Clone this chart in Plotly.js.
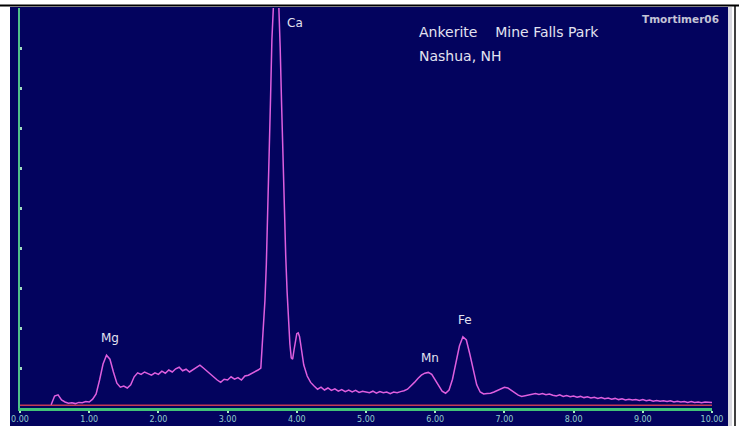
<!DOCTYPE html>
<html>
<head>
<meta charset="utf-8">
<script src="https://cdn.plot.ly/plotly-3.0.1.min.js"></script>
<style>html,body{margin:0;padding:0;background:#fff;}#chart{width:739px;height:426px;}</style>
</head>
<body>
<div id="chart"></div>
<script>
// Energy (keV)
const energy = [
0.45,0.50,0.55,0.60,0.65,0.70,0.75,0.80,0.85,0.90,0.95,1.00,1.05,1.10,1.15,1.20,1.25,1.30,1.35,1.40,
1.45,1.50,1.55,1.60,1.65,1.70,1.75,1.80,1.85,1.90,1.95,2.00,2.05,2.10,2.15,2.20,2.25,2.30,2.35,2.40,
2.45,2.50,2.55,2.60,2.65,2.70,2.75,2.80,2.85,2.90,2.95,3.00,3.05,3.10,3.15,3.20,3.25,3.30,3.35,3.40,
3.44,3.48,3.50,3.52,3.54,3.56,3.58,3.60,3.62,3.64,3.66,3.68,3.70,3.72,3.74,3.76,3.78,3.80,3.82,3.84,
3.86,3.88,3.90,3.92,3.94,3.96,3.98,4.00,4.02,4.04,4.06,4.08,4.10,4.15,4.20,4.25,4.30,4.35,4.40,4.45,
4.50,4.55,4.60,4.65,4.70,4.75,4.80,4.85,4.90,4.95,5.00,5.05,5.10,5.15,5.20,5.25,5.30,5.35,5.40,5.45,
5.50,5.55,5.60,5.65,5.70,5.75,5.80,5.85,5.90,5.95,6.00,6.05,6.10,6.15,6.20,6.25,6.30,6.35,6.40,6.45,
6.50,6.55,6.60,6.65,6.70,6.75,6.80,6.85,6.90,6.95,7.00,7.05,7.10,7.15,7.20,7.25,7.30,7.35,7.40,7.45,
7.50,7.55,7.60,7.65,7.70,7.75,7.80,7.85,7.90,7.95,8.00,8.05,8.10,8.15,8.20,8.25,8.30,8.35,8.40,8.45,
8.50,8.55,8.60,8.65,8.70,8.75,8.80,8.85,8.90,8.95,9.00,9.05,9.10,9.15,9.20,9.25,9.30,9.35,9.40,9.45,
9.50,9.55,9.60,9.65,9.70,9.75,9.80,9.85,9.90,9.95,10.00
];
// Counts (arbitrary units)
const counts = [
0.08,0.30,0.33,0.20,0.15,0.12,0.13,0.11,0.14,0.13,0.16,0.15,0.22,0.35,0.70,1.10,1.32,1.22,0.90,0.62,
0.52,0.55,0.50,0.58,0.78,0.88,0.84,0.90,0.86,0.82,0.88,0.84,0.92,0.87,0.95,0.90,0.98,1.02,0.93,0.97,
0.90,0.95,1.00,1.07,1.00,0.92,0.85,0.78,0.70,0.64,0.72,0.70,0.78,0.72,0.76,0.70,0.80,0.82,0.86,0.90,
0.95,1.00,1.55,2.00,2.70,3.60,4.80,6.20,7.70,9.20,10.40,11.20,11.50,11.10,10.20,9.00,7.60,6.20,4.90,3.80,
2.90,2.20,1.60,1.25,1.22,1.45,1.70,1.86,1.88,1.78,1.55,1.30,1.08,0.80,0.64,0.55,0.47,0.52,0.45,0.50,
0.44,0.48,0.42,0.46,0.41,0.45,0.40,0.44,0.39,0.42,0.40,0.38,0.42,0.37,0.41,0.38,0.40,0.36,0.40,0.38,
0.41,0.43,0.47,0.55,0.64,0.74,0.82,0.87,0.89,0.84,0.70,0.54,0.42,0.37,0.45,0.72,1.15,1.55,1.78,1.70,
1.35,0.92,0.58,0.40,0.35,0.36,0.37,0.40,0.44,0.49,0.52,0.50,0.44,0.37,0.32,0.29,0.31,0.33,0.35,0.36,
0.34,0.36,0.33,0.35,0.32,0.30,0.33,0.29,0.31,0.28,0.30,0.27,0.29,0.26,0.28,0.25,0.27,0.24,0.26,0.23,
0.25,0.22,0.24,0.21,0.23,0.20,0.22,0.20,0.21,0.19,0.21,0.18,0.20,0.17,0.19,0.17,0.18,0.16,0.18,0.15,
0.17,0.15,0.16,0.14,0.16,0.14,0.15,0.13,0.15,0.14,0.14
];
const tickValues = [0,1,2,3,4,5,6,7,8,9,10];
const tickLabels = ["0.00","1.00","2.00","3.00","4.00","5.00","6.00","7.00","8.00","9.00","10.00"];
const peakNames = ["Ca","Mg","Mn","Fe"];
const peakLabelX = [3.97,1.30,5.92,6.43];
const peakLabelY = [9.62,1.75,1.25,2.2];
const baselineLevel = 0.07;

const W = 739, H = 426;
const px = v => v / W;
const py = v => (H - v) / H;

const trace = {
  x: energy, y: counts, type: 'scatter', mode: 'lines',
  line: {color: 'rgb(222,95,222)', width: 1.5},
  hoverinfo: 'skip'
};

const labelFont = {family: 'DejaVu Sans', size: 12, color: '#e2e2f0'};
const annotations = peakNames.map((n, i) => ({
  text: n, x: peakLabelX[i], y: peakLabelY[i], xref: 'x', yref: 'y',
  showarrow: false, font: labelFont
}));
annotations.push(
  {text: 'Ankerite\u00a0\u00a0\u00a0\u00a0Mine Falls Park', x: px(417), y: py(32), xref: 'paper', yref: 'paper',
   xanchor: 'left', yanchor: 'middle', showarrow: false, font: {family: 'DejaVu Sans', size: 14, color: '#e2e2f0'}},
  {text: 'Nashua, NH', x: px(417), y: py(56), xref: 'paper', yref: 'paper',
   xanchor: 'left', yanchor: 'middle', showarrow: false, font: {family: 'DejaVu Sans', size: 14, color: '#e2e2f0'}},
  {text: '<b>Tmortimer06</b>', x: px(721), y: py(19), xref: 'paper', yref: 'paper',
   xanchor: 'right', yanchor: 'middle', showarrow: false, font: {family: 'DejaVu Sans', size: 10.5, color: '#c4c4d6'}}
);

const layout = {
  width: W, height: H,
  margin: {l: 0, r: 0, t: 0, b: 0},
  paper_bgcolor: '#ffffff', plot_bgcolor: 'rgba(0,0,0,0)',
  showlegend: false,
  xaxis: {
    domain: [px(20), px(712)], range: [0, 10],
    showline: true, linecolor: '#42c278', linewidth: 2.5,
    showgrid: false, zeroline: false,
    tickmode: 'array', tickvals: tickValues, ticktext: tickLabels,
    ticks: 'outside', ticklen: 2, tickwidth: 2, tickcolor: '#a8ecc0',
    tickfont: {family: 'DejaVu Sans', size: 8, color: '#92cccc'},
    fixedrange: true
  },
  yaxis: {
    domain: [(H - 408) / H, (H - 8) / H], range: [0, 10],
    showline: true, linecolor: '#4fbf8a', linewidth: 2,
    showgrid: false, zeroline: false,
    tick0: 0, dtick: 1, ticks: 'inside', ticklen: 2, tickwidth: 3, tickcolor: '#9fdcc0',
    showticklabels: false, fixedrange: true
  },
  shapes: [
    {type: 'rect', xref: 'paper', yref: 'paper', x0: px(10), x1: px(728), y0: 0, y1: py(7),
     fillcolor: '#03035e', line: {width: 0}, layer: 'below'},
    {type: 'rect', xref: 'paper', yref: 'paper', x0: px(728), x1: px(732), y0: 0, y1: py(7),
     fillcolor: '#d8d8e0', line: {width: 0}, layer: 'below'},
    {type: 'line', xref: 'paper', yref: 'paper', x0: px(0), x1: px(739), y0: py(5.5), y1: py(5.5),
     line: {color: '#000000', width: 2}},
    {type: 'line', xref: 'paper', yref: 'paper', x0: px(735), x1: px(735), y0: 0, y1: py(5),
     line: {color: '#000000', width: 1.5}},
    {type: 'line', xref: 'x', yref: 'y', x0: 0, x1: 10, y0: baselineLevel, y1: baselineLevel,
     line: {color: '#c23a55', width: 1.5}, layer: 'below'}
  ],
  annotations: annotations
};

Plotly.newPlot('chart', [trace], layout, {staticPlot: true, displayModeBar: false});
</script>
</body>
</html>
